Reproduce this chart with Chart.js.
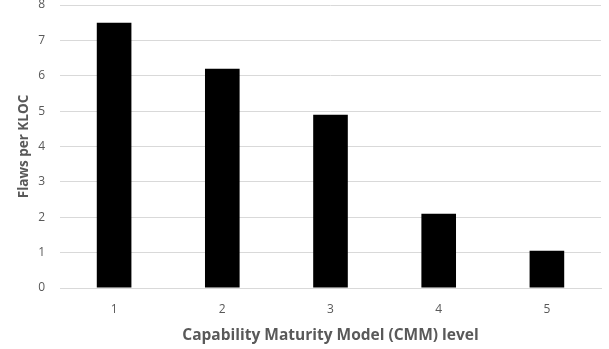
<!DOCTYPE html>
<html>
<head>
<meta charset="utf-8">
<script src="https://cdn.jsdelivr.net/npm/chart.js@4"></script>
<style>
  html, body { margin: 0; padding: 0; background: #fff; }
  #wrap { width: 609px; height: 349px; }
</style>
</head>
<body>
<div id="wrap"><canvas id="flaws" width="609" height="349"></canvas></div>
<script>
// CMM level vs flaws per KLOC
var levels = ['1', '2', '3', '4', '5'];
var flawsPerKloc = [7.5, 6.2, 4.9, 2.1, 1.05];

Chart.defaults.font.family = "'Open Sans', 'Noto Sans', sans-serif";
Chart.defaults.color = '#595959';

var chart = new Chart('flaws', {
  type: 'bar',
  data: {
    labels: levels,
    datasets: [{
      label: 'Flaws per KLOC',
      data: flawsPerKloc,
      backgroundColor: '#000000',
      borderWidth: 0,
      categoryPercentage: 1,
      barPercentage: 0.32
    }]
  },
  options: {
    responsive: false,
    animation: false,
    layout: { padding: { top: 5, right: 8, left: 0, bottom: 0 } },
    plugins: {
      legend: { display: false },
      tooltip: { enabled: false }
    },
    scales: {
      x: {
        grid: { display: false, drawTicks: false },
        border: { color: '#d9d9d9', width: 1 },
        ticks: { padding: 14, font: { size: 12 } },
        title: {
          display: true,
          text: 'Capability Maturity Model (CMM) level',
          font: { size: 15.5, weight: 'bold' },
          padding: { top: 3, bottom: 4 }
        },
        afterFit: function(axis) {
          axis.height = 61;
          axis.paddingLeft = 0;
          axis.paddingRight = 0;
        }
      },
      y: {
        min: 0,
        max: 8,
        ticks: { stepSize: 1, padding: 15, font: { size: 12 } },
        grid: { color: '#d9d9d9', drawTicks: false },
        border: { display: false },
        title: {
          display: true,
          text: 'Flaws per KLOC',
          font: { size: 13.5, weight: 'bold' },
          padding: { top: 16, bottom: 4 }
        },
        afterFit: function(axis) {
          axis.width = 60;
          axis.paddingTop = 0;
          axis.paddingBottom = 0;
        }
      }
    }
  }
});
</script>
</body>
</html>
